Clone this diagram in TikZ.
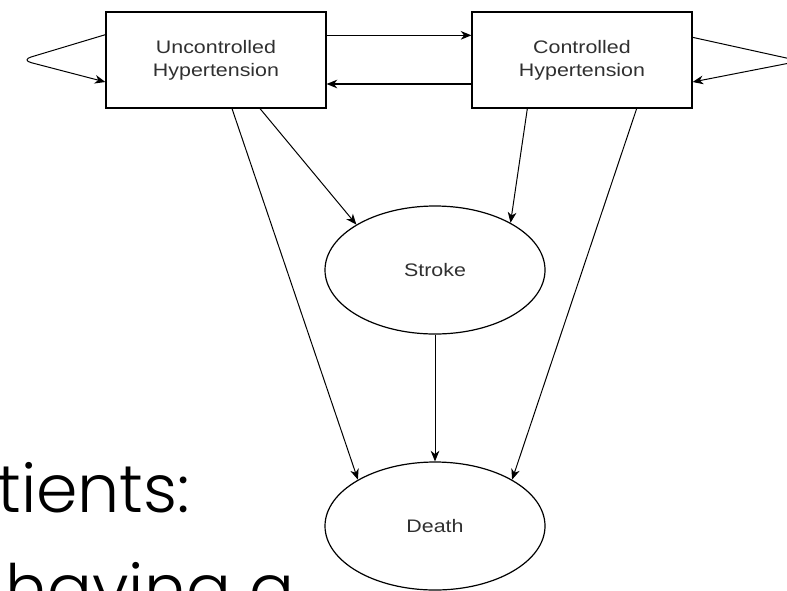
\documentclass[tikz,border=0pt]{standalone}
\usepackage{fontspec}
\setmainfont{Liberation Sans}
\newfontfamily\diagfont[FakeStretch=1.18]{Liberation Sans}
\newfontfamily\slidefont{Poppins Light}
\usetikzlibrary{shapes.geometric, arrows.meta}
\definecolor{labelgray}{HTML}{303030}

\begin{document}
\begin{tikzpicture}[x=0.75pt, y=-0.75pt]
\tikzstyle{statebox} = [rectangle, minimum width=165pt, minimum height=72pt, inner sep=2pt,
                    align=center, draw=black, line width=0.9pt, text=labelgray,
                    font=\diagfont\fontsize{13.6}{17}\selectfont]
\tikzstyle{eventnode} = [statebox, ellipse, minimum height=96pt, inner sep=1pt]
\tikzstyle{arrow} = [line width=0.75pt, -{Stealth[length=8pt, width=6.5pt, inset=2.5pt]}]
\useasboundingbox (0,0) rectangle (787,590);
% states
\node (unctrl) [statebox] at (216,60) {Uncontrolled\\Hypertension};
\node (ctrl) [statebox] at (582,60) {Controlled\\Hypertension};
\node (stroke) [eventnode] at (435,270) {Stroke};
\node (death) [eventnode] at (435,526) {Death};
% self loops
\coordinate (loopL) at (21,60);
\coordinate (loopR) at (800,61);
\draw [arrow, rounded corners=8pt] ([yshift=19pt]unctrl.west) -- (loopL) -- ([yshift=-16.5pt]unctrl.west);
\draw [arrow, rounded corners=8pt] ([yshift=17pt]ctrl.east) -- (loopR) -- ([yshift=-16.5pt]ctrl.east);
% transitions
\draw [arrow, line width=0.95pt] ([yshift=18.5pt]unctrl.east) -- ([yshift=18.5pt]ctrl.west);
\draw [arrow, line width=0.95pt] ([yshift=-18pt]ctrl.west) -- ([yshift=-18pt]unctrl.east);
\draw [arrow] ([xshift=12pt]unctrl.south) -- (death.149);
\draw [arrow] ([xshift=33pt]unctrl.south) -- (stroke.150);
\draw [arrow] ([xshift=-41pt]ctrl.south) -- (stroke.32);
\draw [arrow] ([xshift=41pt]ctrl.south) -- (death.31);
\draw [arrow] (stroke) -- (death);
% slide text behind the diagram
\node (line1) [anchor=base west, inner sep=0pt, font=\slidefont\fontsize{50}{50}\selectfont] at (-3,512) {tients:};
\node (line2) [anchor=base west, inner sep=0pt, font=\slidefont\fontsize{50}{50}\selectfont,
               text width=400pt] at (5,612) {having\hspace{-3pt} a};
\end{tikzpicture}
\end{document}
